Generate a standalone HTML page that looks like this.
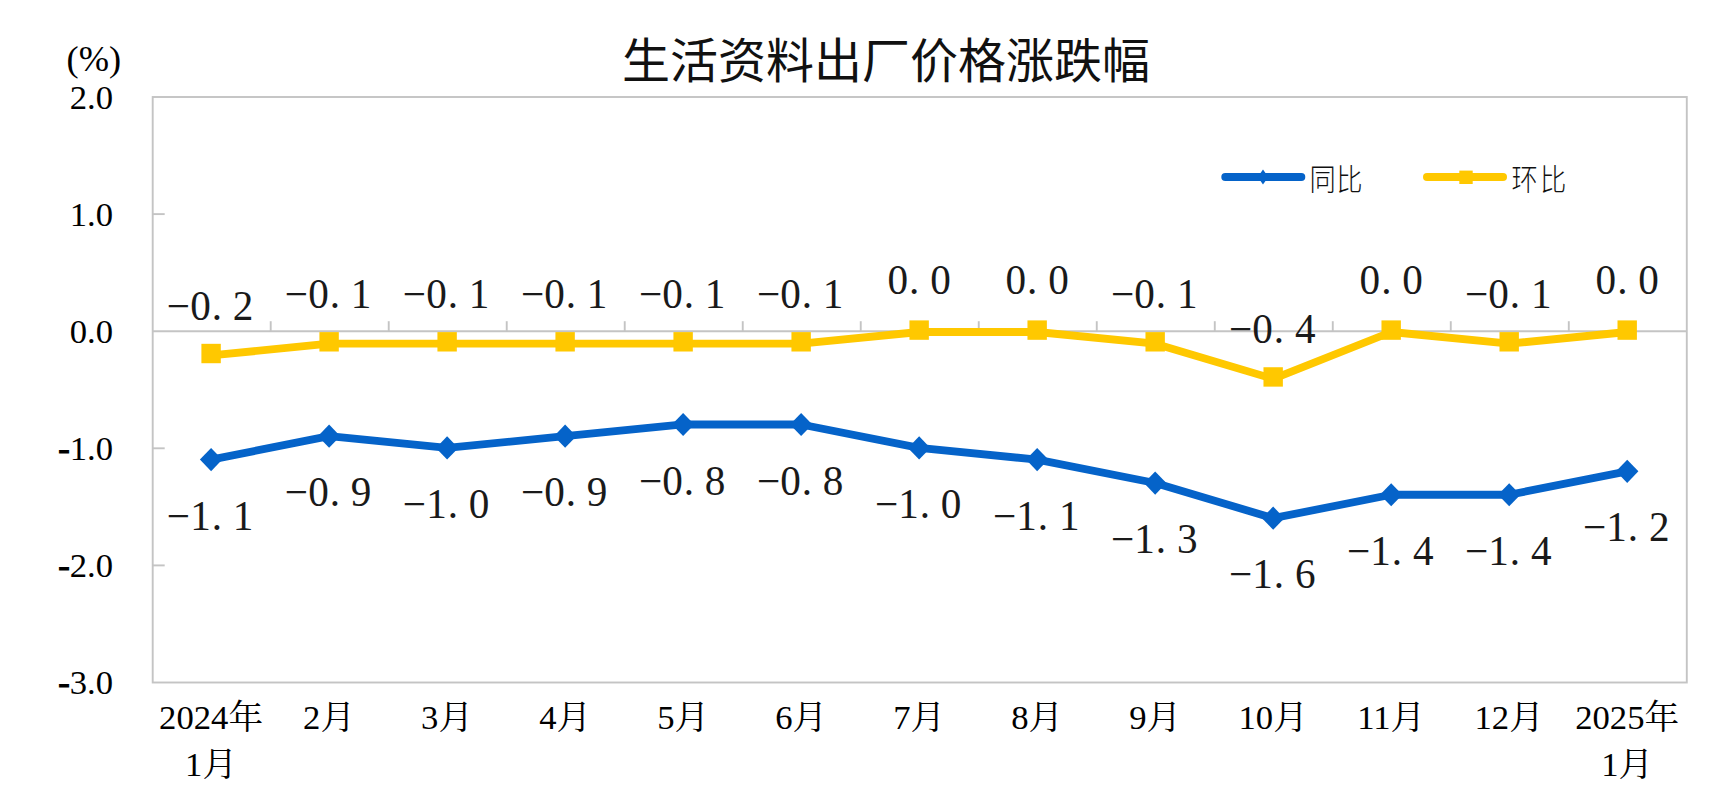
<!DOCTYPE html>
<html lang="zh-CN"><head><meta charset="utf-8"><title>生活资料出厂价格涨跌幅</title>
<style>
html,body{margin:0;padding:0;background:#fff;}
body{width:1729px;height:799px;overflow:hidden;}
svg{display:block;}
.ax{font-family:"Liberation Serif","Noto Serif CJK SC",serif;font-size:34.67px;fill:#000;}
.dl{font-family:"Liberation Serif","Noto Serif CJK SC",serif;font-size:41.2px;fill:#1a1a1a;text-anchor:middle;}
.ti{font-family:"Liberation Sans","Noto Sans CJK SC",sans-serif;font-size:48px;fill:#111;text-anchor:middle;font-weight:400;}
.lg{font-family:"Liberation Sans","Noto Sans CJK SC",sans-serif;font-size:30px;fill:#111;font-weight:300;}
</style></head><body>
<svg width="1729" height="799" viewBox="0 0 1729 799">
<rect x="0" y="0" width="1729" height="799" fill="#fff"/>
<rect x="152.7" y="97" width="1534.1" height="585.5" fill="none" stroke="#C4C4C4" stroke-width="1.9"/>
<line x1="152.7" y1="331.2" x2="1686.8" y2="331.2" stroke="#C4C4C4" stroke-width="1.9"/>
<line x1="152.7" y1="214.1" x2="164.7" y2="214.1" stroke="#C4C4C4" stroke-width="1.9"/>
<line x1="152.7" y1="448.3" x2="164.7" y2="448.3" stroke="#C4C4C4" stroke-width="1.9"/>
<line x1="152.7" y1="565.4" x2="164.7" y2="565.4" stroke="#C4C4C4" stroke-width="1.9"/>
<line x1="270.71" y1="321.2" x2="270.71" y2="331.2" stroke="#C4C4C4" stroke-width="1.9"/>
<line x1="388.72" y1="321.2" x2="388.72" y2="331.2" stroke="#C4C4C4" stroke-width="1.9"/>
<line x1="506.72" y1="321.2" x2="506.72" y2="331.2" stroke="#C4C4C4" stroke-width="1.9"/>
<line x1="624.73" y1="321.2" x2="624.73" y2="331.2" stroke="#C4C4C4" stroke-width="1.9"/>
<line x1="742.74" y1="321.2" x2="742.74" y2="331.2" stroke="#C4C4C4" stroke-width="1.9"/>
<line x1="860.75" y1="321.2" x2="860.75" y2="331.2" stroke="#C4C4C4" stroke-width="1.9"/>
<line x1="978.75" y1="321.2" x2="978.75" y2="331.2" stroke="#C4C4C4" stroke-width="1.9"/>
<line x1="1096.76" y1="321.2" x2="1096.76" y2="331.2" stroke="#C4C4C4" stroke-width="1.9"/>
<line x1="1214.77" y1="321.2" x2="1214.77" y2="331.2" stroke="#C4C4C4" stroke-width="1.9"/>
<line x1="1332.78" y1="321.2" x2="1332.78" y2="331.2" stroke="#C4C4C4" stroke-width="1.9"/>
<line x1="1450.78" y1="321.2" x2="1450.78" y2="331.2" stroke="#C4C4C4" stroke-width="1.9"/>
<line x1="1568.79" y1="321.2" x2="1568.79" y2="331.2" stroke="#C4C4C4" stroke-width="1.9"/>
<text class="ti" x="886" y="78">生活资料出厂价格涨跌幅</text>
<text class="ax" style="font-size:36.4px" x="66.6" y="71.2">(%)</text>
<text class="ax" text-anchor="end" x="113" y="108.8">2.0</text>
<text class="ax" text-anchor="end" x="113" y="225.9">1.0</text>
<text class="ax" text-anchor="end" x="113" y="343">0.0</text>
<text class="ax" text-anchor="end" x="113" y="460.1"><tspan stroke="#000" stroke-width="1.1">-</tspan>1.0</text>
<text class="ax" text-anchor="end" x="113" y="577.2"><tspan stroke="#000" stroke-width="1.1">-</tspan>2.0</text>
<text class="ax" text-anchor="end" x="113" y="694.3"><tspan stroke="#000" stroke-width="1.1">-</tspan>3.0</text>
<text class="ax" text-anchor="middle" x="211.1" y="728.9">2024年</text>
<text class="ax" text-anchor="middle" x="211.1" y="776.3">1月</text>
<text class="ax" text-anchor="middle" x="329.11" y="728.9">2月</text>
<text class="ax" text-anchor="middle" x="447.12" y="728.9">3月</text>
<text class="ax" text-anchor="middle" x="565.13" y="728.9">4月</text>
<text class="ax" text-anchor="middle" x="683.13" y="728.9">5月</text>
<text class="ax" text-anchor="middle" x="801.14" y="728.9">6月</text>
<text class="ax" text-anchor="middle" x="919.15" y="728.9">7月</text>
<text class="ax" text-anchor="middle" x="1037.16" y="728.9">8月</text>
<text class="ax" text-anchor="middle" x="1155.17" y="728.9">9月</text>
<text class="ax" text-anchor="middle" x="1273.17" y="728.9">10月</text>
<text class="ax" text-anchor="middle" x="1391.18" y="728.9">11月</text>
<text class="ax" text-anchor="middle" x="1509.19" y="728.9">12月</text>
<text class="ax" text-anchor="middle" x="1627.2" y="728.9">2025年</text>
<text class="ax" text-anchor="middle" x="1627.2" y="776.3">1月</text>
<polyline points="211.1,355.42 329.11,343.71 447.12,343.71 565.13,343.71 683.13,343.71 801.14,343.71 919.15,332 1037.16,332 1155.17,343.71 1273.17,378.84 1391.18,332 1509.19,343.71 1627.2,332" fill="none" stroke="#FFC800" stroke-width="7.8" stroke-linejoin="round" stroke-linecap="round"/>
<rect x="201.4" y="343.82" width="19.4" height="19.4" fill="#FFC800"/>
<rect x="319.41" y="332.11" width="19.4" height="19.4" fill="#FFC800"/>
<rect x="437.42" y="332.11" width="19.4" height="19.4" fill="#FFC800"/>
<rect x="555.43" y="332.11" width="19.4" height="19.4" fill="#FFC800"/>
<rect x="673.43" y="332.11" width="19.4" height="19.4" fill="#FFC800"/>
<rect x="791.44" y="332.11" width="19.4" height="19.4" fill="#FFC800"/>
<rect x="909.45" y="320.4" width="19.4" height="19.4" fill="#FFC800"/>
<rect x="1027.46" y="320.4" width="19.4" height="19.4" fill="#FFC800"/>
<rect x="1145.47" y="332.11" width="19.4" height="19.4" fill="#FFC800"/>
<rect x="1263.47" y="367.24" width="19.4" height="19.4" fill="#FFC800"/>
<rect x="1381.48" y="320.4" width="19.4" height="19.4" fill="#FFC800"/>
<rect x="1499.49" y="332.11" width="19.4" height="19.4" fill="#FFC800"/>
<rect x="1617.5" y="320.4" width="19.4" height="19.4" fill="#FFC800"/>
<polyline points="211.1,459.61 329.11,436.19 447.12,447.9 565.13,436.19 683.13,424.48 801.14,424.48 919.15,447.9 1037.16,459.61 1155.17,483.03 1273.17,518.16 1391.18,494.74 1509.19,494.74 1627.2,471.32" fill="none" stroke="#0563C9" stroke-width="7.8" stroke-linejoin="round" stroke-linecap="round"/>
<polygon points="211.1,448.01 222.3,459.61 211.1,471.21 199.9,459.61" fill="#0563C9"/>
<polygon points="329.11,424.59 340.31,436.19 329.11,447.79 317.91,436.19" fill="#0563C9"/>
<polygon points="447.12,436.3 458.32,447.9 447.12,459.5 435.92,447.9" fill="#0563C9"/>
<polygon points="565.13,424.59 576.33,436.19 565.13,447.79 553.93,436.19" fill="#0563C9"/>
<polygon points="683.13,412.88 694.33,424.48 683.13,436.08 671.93,424.48" fill="#0563C9"/>
<polygon points="801.14,412.88 812.34,424.48 801.14,436.08 789.94,424.48" fill="#0563C9"/>
<polygon points="919.15,436.3 930.35,447.9 919.15,459.5 907.95,447.9" fill="#0563C9"/>
<polygon points="1037.16,448.01 1048.36,459.61 1037.16,471.21 1025.96,459.61" fill="#0563C9"/>
<polygon points="1155.17,471.43 1166.37,483.03 1155.17,494.63 1143.97,483.03" fill="#0563C9"/>
<polygon points="1273.17,506.56 1284.37,518.16 1273.17,529.76 1261.97,518.16" fill="#0563C9"/>
<polygon points="1391.18,483.14 1402.38,494.74 1391.18,506.34 1379.98,494.74" fill="#0563C9"/>
<polygon points="1509.19,483.14 1520.39,494.74 1509.19,506.34 1497.99,494.74" fill="#0563C9"/>
<polygon points="1627.2,459.72 1638.4,471.32 1627.2,482.92 1616,471.32" fill="#0563C9"/>
<text class="dl" x="178.48 200.43 216.88 243.13" y="319.72">−0.2</text>
<text class="dl" x="296.49 318.44 334.89 361.14" y="308.01">−0.1</text>
<text class="dl" x="414.49 436.44 452.89 479.14" y="308.01">−0.1</text>
<text class="dl" x="532.5 554.45 570.9 597.15" y="308.01">−0.1</text>
<text class="dl" x="650.51 672.46 688.91 715.16" y="308.01">−0.1</text>
<text class="dl" x="768.52 790.47 806.92 833.17" y="308.01">−0.1</text>
<text class="dl" x="897.8 914.25 940.5" y="294.3">0.0</text>
<text class="dl" x="1015.81 1032.26 1058.51" y="294.3">0.0</text>
<text class="dl" x="1122.54 1144.49 1160.94 1187.19" y="308.01">−0.1</text>
<text class="dl" x="1240.55 1262.5 1278.95 1305.2" y="343.14">−0.4</text>
<text class="dl" x="1369.83 1386.28 1412.53" y="294.3">0.0</text>
<text class="dl" x="1476.56 1498.51 1514.96 1541.21" y="308.01">−0.1</text>
<text class="dl" x="1605.85 1622.3 1648.55" y="294.3">0.0</text>
<text class="dl" x="178.48 200.43 216.88 243.13" y="529.71">−1.1</text>
<text class="dl" x="296.49 318.44 334.89 361.14" y="506.29">−0.9</text>
<text class="dl" x="414.49 436.44 452.89 479.14" y="518">−1.0</text>
<text class="dl" x="532.5 554.45 570.9 597.15" y="506.29">−0.9</text>
<text class="dl" x="650.51 672.46 688.91 715.16" y="494.58">−0.8</text>
<text class="dl" x="768.52 790.47 806.92 833.17" y="494.58">−0.8</text>
<text class="dl" x="886.52 908.48 924.92 951.17" y="518">−1.0</text>
<text class="dl" x="1004.53 1026.48 1042.93 1069.18" y="529.71">−1.1</text>
<text class="dl" x="1122.54 1144.49 1160.94 1187.19" y="553.13">−1.3</text>
<text class="dl" x="1240.55 1262.5 1278.95 1305.2" y="588.26">−1.6</text>
<text class="dl" x="1358.56 1380.51 1396.96 1423.21" y="564.84">−1.4</text>
<text class="dl" x="1476.56 1498.51 1514.96 1541.21" y="564.84">−1.4</text>
<text class="dl" x="1594.57 1616.52 1632.97 1659.22" y="541.42">−1.2</text>
<line x1="1225.3" y1="177" x2="1301.3" y2="177" stroke="#0563C9" stroke-width="8" stroke-linecap="round"/>
<polygon points="1263,169.5 1268.2,177 1263,184.5 1257.8,177" fill="#0563C9"/>
<text class="lg" transform="translate(1309.4,189.8) scale(0.875,1)" x="0 30.6">同比</text>
<line x1="1427" y1="177" x2="1503" y2="177" stroke="#FFC800" stroke-width="8" stroke-linecap="round"/>
<rect x="1459.3" y="170.6" width="13.4" height="13.4" fill="#FFC800"/>
<text class="lg" transform="translate(1511.4,189.8) scale(0.875,1)" x="0 32.8">环比</text>
</svg></body></html>
